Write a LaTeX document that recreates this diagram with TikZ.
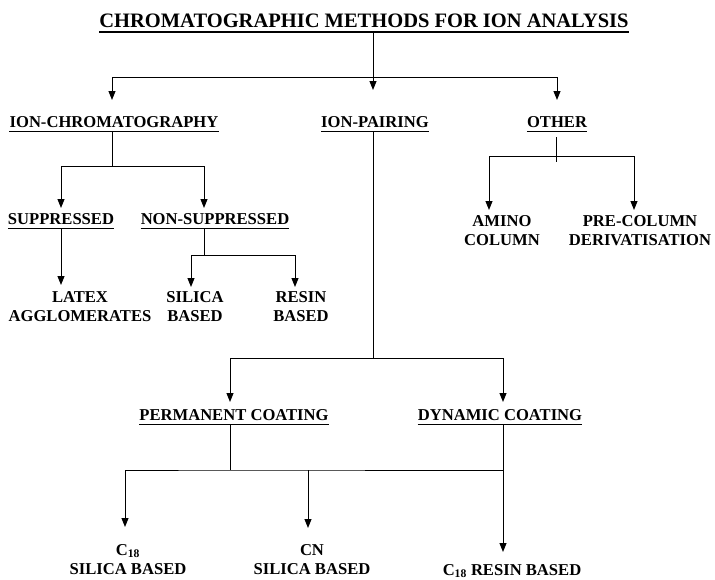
\documentclass[tikz,border=0pt]{standalone}
\usepackage{fontspec}
\setmainfont{Liberation Serif}
\usepackage{tikz}
\usetikzlibrary{arrows.meta}

\tikzset{
    lbl/.style={font=\fontsize{16.6}{19.5}\selectfont\bfseries, align=center, inner sep=0pt, anchor=north},
    heading/.style={lbl, inner ysep=4pt, text depth=0pt,
        append after command={(\tikzlastnode.south west) edge[uline] (\tikzlastnode.south east)}},
    uline/.style={draw, line width=1.2pt},
    conn/.style={line width=1pt},
    arr/.style={conn, -{Triangle[length=9pt,width=7pt]}, shorten >=4pt}
}

\begin{document}
\begin{tikzpicture}[x=1pt, y=-1pt]
    \useasboundingbox (0,0) rectangle (715,579);

    % Title
    \node[heading, font=\fontsize{20.5}{24}\selectfont\bfseries,
          append after command={(\tikzlastnode.south west) edge[line width=1.6pt] (\tikzlastnode.south east)}]
        (title) at (364,10) {CHROMATOGRAPHIC METHODS FOR ION ANALYSIS};

    % First level - three groups of methods
    \node[heading] (ionchrom) at (114,112) {ION-CHROMATOGRAPHY};
    \node[heading] (ionpair) at (375,112) {ION-PAIRING};
    \node[heading] (other) at (557,112) {OTHER};

    \coordinate (topbus) at (373,77);
    \draw[arr, shorten >=22pt] ([xshift=-2pt]ionpair.north |- title.south) -- ([xshift=-2pt]ionpair.north);
    \draw[arr, shorten >=12pt] (topbus) -| ([xshift=-2pt]ionchrom.north);
    \draw[arr, shorten >=12pt] (topbus) -| (other.north);

    % Ion-chromatography branch
    \node[heading] (supp) at (61,209) {SUPPRESSED};
    \node[heading] (nonsupp) at (215,209) {NON-SUPPRESSED};
    \node[lbl] (latex) at (80,291) {LATEX\\AGGLOMERATES};
    \node[lbl] (silica) at (195,291) {SILICA\\BASED};
    \node[lbl] (resin) at (301,291) {RESIN\\BASED};

    \coordinate (icbus) at (112,166);
    \draw[conn] ([xshift=-2pt]ionchrom.south) -- (icbus);
    \draw[arr, shorten >=1pt] (icbus) -| (supp.north);
    \draw[arr, shorten >=1pt] (icbus) -| ([xshift=-11pt]nonsupp.north);
    \draw[arr, shorten >=6pt] (supp.south) -- (supp.south |- latex.north);

    \coordinate (nsbus) at (204,255);
    \draw[conn] ([xshift=-11pt]nonsupp.south) -- (nsbus);
    \draw[arr] (nsbus) -| ([xshift=-4pt]silica.north);
    \draw[arr] (nsbus) -| ([xshift=-6pt]resin.north);

    % Other branch
    \node[lbl] (amino) at (502,215) {AMINO\\COLUMN};
    \node[lbl] (precol) at (640,215) {PRE-COLUMN\\DERIVATISATION};

    \coordinate (otbus) at (556,156);
    \draw[conn, shorten <=6pt, shorten >=-6pt] ([xshift=-1pt]other.south) -- (otbus);
    \draw[arr, shorten >=5pt] (otbus) -| ([xshift=-13pt]amino.north);
    \draw[arr, shorten >=5pt] (otbus) -| ([xshift=-6pt]precol.north);

    % Ion-pairing branch
    \node[heading] (perm) at (234,405) {PERMANENT COATING};
    \node[heading] (dyn) at (500,405) {DYNAMIC COATING};

    \coordinate (ipbus) at (373,358);
    \draw[conn] ([xshift=-2pt]ionpair.south) -- (ipbus);
    \draw[arr, shorten >=3pt] (ipbus) -| ([xshift=-4pt]perm.north);
    \draw[arr, shorten >=3pt] (ipbus) -| ([xshift=3pt]dyn.north);

    % Column types
    \node[lbl] (csilica) at (128,544) {C\textsubscript{18}\\SILICA BASED};
    \node[lbl] (cnsilica) at (312,544) {CN\\SILICA BASED};
    \node[lbl] (cresin) at (512,564) {C\textsubscript{18} RESIN BASED};

    \coordinate (pmbus) at (230,470);
    \coordinate (dybus) at (503,470);
    \draw[conn] ([xshift=-4pt]perm.south) -- (pmbus);
    \draw[arr, shorten >=17pt] (dybus) -- (pmbus) -| ([xshift=-3pt]csilica.north);
    \draw[arr, shorten >=16pt] ([xshift=-4pt]cnsilica.north |- pmbus) -- ([xshift=-4pt]cnsilica.north);
    \draw[arr, shorten >=12pt] ([xshift=3pt]dyn.south) -- ([xshift=3pt]dyn.south |- cresin.north);
\end{tikzpicture}
\end{document}
